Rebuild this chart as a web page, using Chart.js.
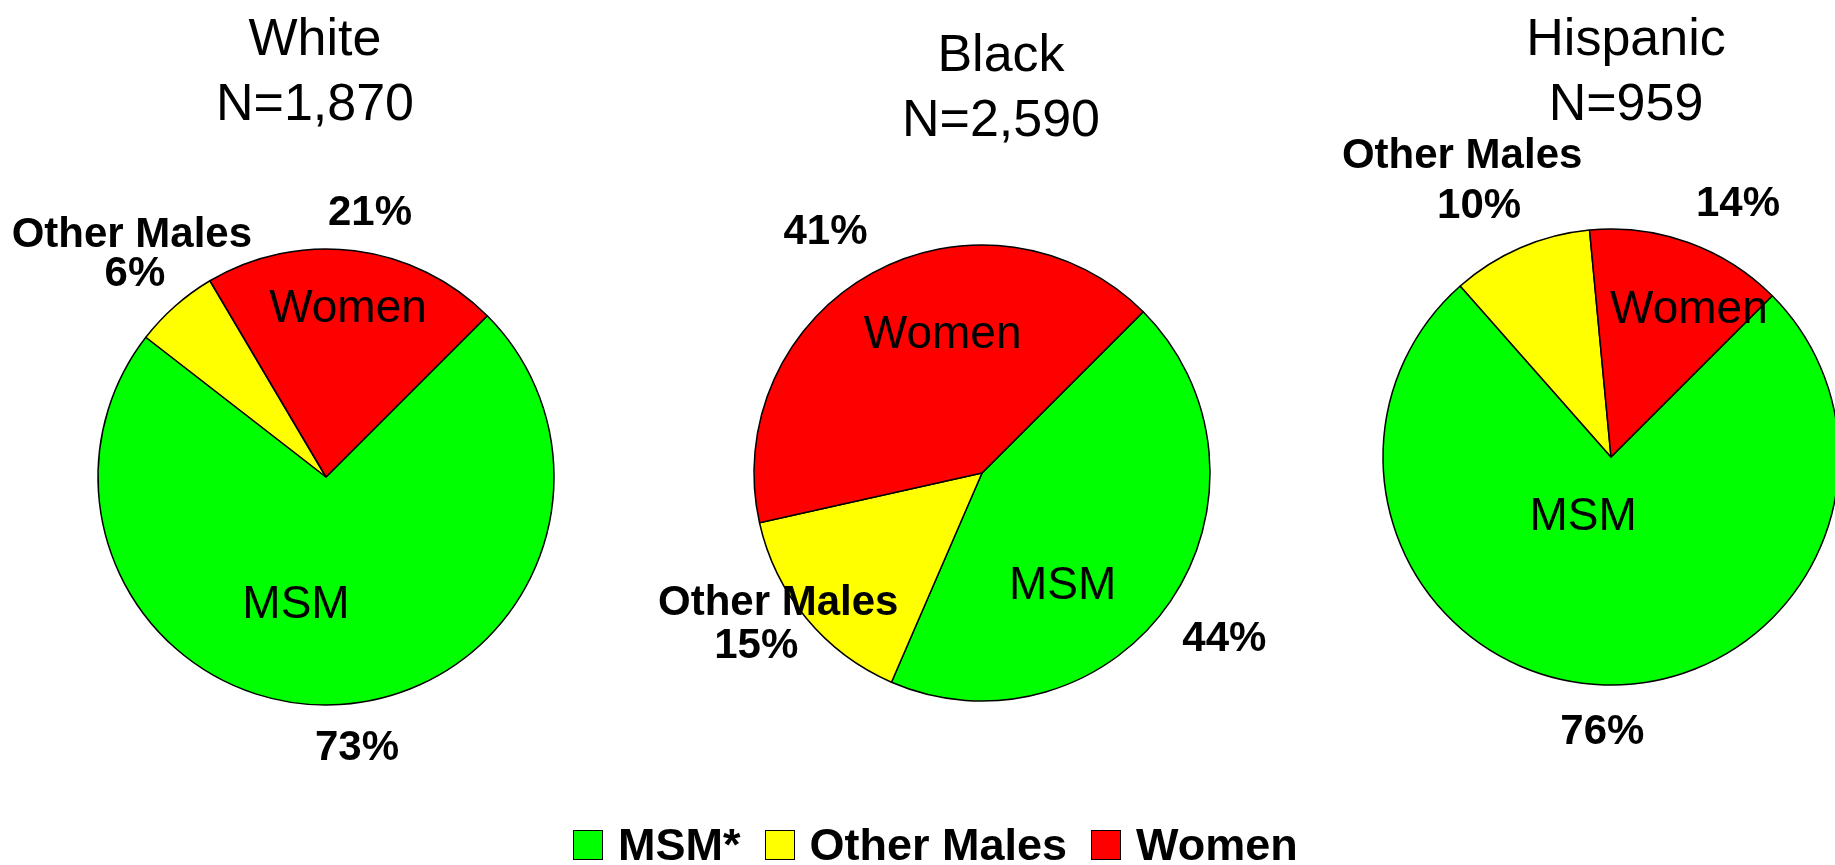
<!DOCTYPE html>
<html>
<head>
<meta charset="utf-8">
<script src="https://cdn.jsdelivr.net/npm/chart.js@4.4.1/dist/chart.umd.min.js"></script>
<style>
  body { margin: 0; width: 1835px; height: 865px; overflow: hidden; background: #fff;
         font-family: "Liberation Sans", Arial, sans-serif; color: #000; }
  .pie { position: absolute; }
  .title { position: absolute; transform: translateX(-50%); font-size: 52px; line-height: 65px;
           text-align: center; white-space: nowrap; }
  #legend { position: absolute; left: 573px; top: 818px; height: 54px; display: flex; align-items: center;
            font-weight: bold; font-size: 45px; white-space: nowrap; }
  #legend .box { width: 28px; height: 28px; border: 1.5px solid #000; margin-right: 15px; }
  #legend .item { display: flex; align-items: center; margin-right: 24px; }
</style>
</head>
<body>
<div id="titles"></div>
<div id="pies"></div>
<div id="legend"></div>
<script>
// data
const categories = ['MSM', 'Other Males', 'Women'];
const legendNames = ['MSM*', 'Other Males', 'Women'];
const groups = ['White', 'Black', 'Hispanic'];
const groupN = ['N=1,870', 'N=2,590', 'N=959'];
const white = [73, 6, 21];
const black = [44, 15, 41];
const hispanic = [76, 10, 14];
const colors = ['#00ff00', '#ffff00', '#ff0000'];

// layout
const pieCenters = [[326, 477], [982, 473], [1611, 457]];
const titleSpots = [[315, 5], [1001, 21], [1626, 5]];
const canvasSize = 700;
// [angle shift in degrees, fraction of radius] for each slice
const innerSpots = [
    [[16.7, 0.58], null, [0.3, 0.74]],
    [[20.4, 0.61], null, [12.9, 0.63]],
    [[23.2, 0.29], null, [8.1, 0.73]]
];
const outerSpots = [
    [[-2.9, 1.2], [-2, 1.22], [2.3, 1.17]],
    [[0.3, 1.29], [2, 1.25], [-4.2, 1.26]],
    [[0, 1.21], [-4.4, 1.24], [6.9, 1.24]]
];
// where the name of a small slice sits, relative to its percent
const nameShift = [[-3, -39], [22, -43], [-17, -50]];

const sliceLabels = {
    id: 'sliceLabels',
    afterDatasetsDraw: (chart, args, opts) => {
        const {ctx} = chart;
        const values = chart.data.datasets[0].data;
        ctx.save();
        ctx.fillStyle = '#000';
        ctx.textAlign = 'center';
        ctx.textBaseline = 'middle';
        chart.getDatasetMeta(0).data.forEach((arc, i) => {
            const p = arc.getProps(['x', 'y', 'startAngle', 'endAngle', 'outerRadius'], true);
            const mid = (p.startAngle + p.endAngle) / 2;
            const at = (spot) => {
                const a = mid + spot[0] * Math.PI / 180;
                return [p.x + Math.cos(a) * p.outerRadius * spot[1], p.y + Math.sin(a) * p.outerRadius * spot[1]];
            };
            const [ox, oy] = at(opts.outer[i]);
            ctx.font = 'bold 42px "Liberation Sans"';
            ctx.fillText(values[i] + '%', ox, oy);
            if (opts.inner[i]) {
                const [ix, iy] = at(opts.inner[i]);
                ctx.font = '46px "Liberation Sans"';
                ctx.fillText(chart.data.labels[i], ix, iy);
            } else {
                // small slice: name goes above the percent
                ctx.fillText(chart.data.labels[i], ox + opts.name[0], oy + opts.name[1]);
            }
        });
        ctx.restore();
    }
};

const series = [white, black, hispanic];

series.forEach((values, k) => {
    const t = document.createElement('div');
    t.className = 'title';
    t.style.left = titleSpots[k][0] + 'px';
    t.style.top = titleSpots[k][1] + 'px';
    t.innerHTML = groups[k] + '<br>' + groupN[k];
    document.getElementById('titles').appendChild(t);

    const c = document.createElement('canvas');
    c.className = 'pie';
    c.width = canvasSize;
    c.height = canvasSize;
    c.style.left = (pieCenters[k][0] - canvasSize / 2) + 'px';
    c.style.top = (pieCenters[k][1] - canvasSize / 2) + 'px';
    document.getElementById('pies').appendChild(c);

    new Chart(c.getContext('2d'), {
        type: 'pie',
        data: {
            labels: categories,
            datasets: [{
                data: values,
                backgroundColor: colors,
                borderColor: '#000',
                borderWidth: 1.5,
                hoverOffset: 0,
                radius: 228
            }]
        },
        options: {
            responsive: false,
            animation: false,
            rotation: 45,
            layout: { padding: 0 },
            events: [],
            plugins: {
                legend: { display: false },
                title: { display: false },
                tooltip: { enabled: false },
                sliceLabels: { inner: innerSpots[k], outer: outerSpots[k], name: nameShift[k] }
            }
        },
        plugins: [sliceLabels]
    });
});

legendNames.forEach((name, i) => {
    const item = document.createElement('div');
    item.className = 'item';
    item.innerHTML = '<div class="box" style="background:' + colors[i] + '"></div><span>' + name + '</span>';
    document.getElementById('legend').appendChild(item);
});
</script>
</body>
</html>
